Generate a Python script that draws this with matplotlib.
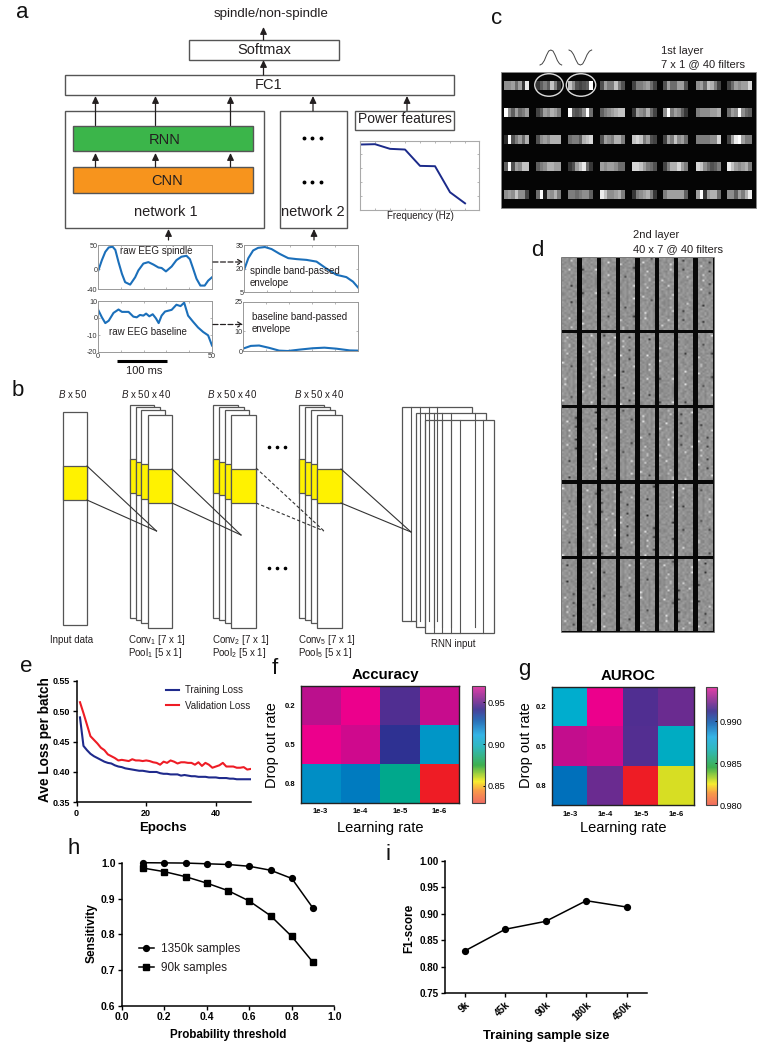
"""
plot.py
-------
Multi-panel figure: spindle network diagram (a, b), learned filters (c, d),
training curves (e), hyper-parameter heatmaps (f, g), sensitivity (h), F1 (i).
"""

import matplotlib
matplotlib.use("Agg")
import matplotlib.pyplot as plt
import numpy as np
from matplotlib.cm import ScalarMappable
from matplotlib.colors import LinearSegmentedColormap, Normalize, PowerNorm
from matplotlib.patches import Ellipse, Rectangle

plt.rcParams["font.family"] = ["Liberation Sans", "DejaVu Sans"]
plt.rcParams["mathtext.fontset"] = "custom"
plt.rcParams["mathtext.rm"] = "Liberation Sans"
plt.rcParams["mathtext.it"] = "Liberation Sans:italic"
plt.rcParams["mathtext.default"] = "regular"
plt.rcParams["axes.unicode_minus"] = False

# ---------------------------------------------------------------------------
# Data
# ---------------------------------------------------------------------------
RAW_SPINDLE_X = [0, 1.7, 3.2, 4.7, 6.4, 7.6, 9, 10.5, 11.9, 14.1, 16.3, 17.7, 19.9, 22.1, 24.3,
                 26.5, 27.9, 29.8, 32.3, 34.4, 36.6, 38.8, 40.3, 41.7, 43.2, 44.9, 46.8, 48.3, 50]
RAW_SPINDLE_Y = [-4, 19, 36, 45, 46.5, 40, 15, -9, -26, -31, -16, -2, 12, 15, 10,
                 4, 3, -4, 6, 19, 26, 28, 21, 2, -19, -33, -33, -23, -16]
RAW_BASE_X = [0, 1.7, 3.2, 4.7, 6.8, 9, 10.5, 13.4, 15.5, 17, 18.4, 19.9, 21.1, 22.5, 24,
              25.4, 26.6, 27.9, 29.4, 32.3, 34.4, 36.2, 37.8, 39.5, 41.7, 43.9, 46.1, 48.3, 50]
RAW_BASE_Y = [5, 0.4, -3, -1.6, 3, 5, 3.6, 3.6, 0.8, 0.4, 1.8, 1.4, 2.6, 1, 2.2,
              -0.2, -3, 1.4, 3.8, 4.8, 7.8, 7, 9, 1.4, -2.2, -5.6, -8.2, -10.2, -16.2]
ENV_SPINDLE_X = [0, 1.9, 4, 6.2, 9.2, 12.1, 15.7, 19.4, 23, 27.4, 31.8, 36.1, 40.5, 44.9, 47.8, 50]
ENV_SPINDLE_Y = [18.9, 26.6, 31.5, 33.2, 33.7, 32.4, 29.3, 26.6, 26, 25.5, 24.4, 20, 16, 14.5, 11.6, 7.9]
ENV_BASE_X = [0, 3.4, 7, 11.4, 15.7, 19.4, 24.5, 30.3, 35.4, 40.5, 46.4, 50]
ENV_BASE_Y = [1.2, 2.6, 2.8, 1.6, 0.2, 0, 0.7, 1.4, 1.7, 1.2, 0.3, 0.2]
POWER_BINS = [1, 2, 3, 4, 5, 6, 7, 8]
POWER_VALUES = [0.942, 0.947, 0.88, 0.87, 0.635, 0.63, 0.255, 0.096]

# 1st layer filters, one hex digit of grey per weight
FILTERS_C = [
    ["99a7a3e", "3686c83", "c95456f", "5a88c85", "4889a74", "5a77aa5", "9a7cb84", "47a9aad"],
    ["f96a78a", "46a9ba8", "f6569f7", "689abcc", "3a98b74", "9f8a963", "8999aab", "7a9f976"],
    ["2f58a7b", "59a9bbb", "7886bcd", "5a98bb8", "cdc8a54", "4a8c9a7", "888899d", "4aefa88"],
    ["6f5a9cc", "689bbaa", "35ace73", "a9aa977", "ddca875", "48bbda8", "dc97568", "eca9ab8"],
    ["9a9c994", "7f1a9b8", "8878996", "ec99ab8", "389ab83", "8aaaaa6", "af3abb7", "996a8be"],
]
TEXTURE_D = [
    "98a79b89a8798a9c87a9879",
    "8a97e8a79b8979a88b9a7a8",
    "a7989a8b79a89c98a798b98",
    "79a88b92a8798a9a79b8a97",
    "9b8a79a8b97a98e7a98a79a",
    "87a9b879a89b8a7989ba878",
    "a98f7a98a79a8b97a8792b9",
    "7b98a9879ba8798ab9a879a",
    "9a87b9a2a89b7a98a79b8a8",
    "a79a8798ab97f98a89a7b98",
    "8b9a79b98a789ab87a98a9a",
    "98a8b7a9a8b9879a3a879b8",
    "7a98a89b7e98a9b8a9b87a9",
    "a89b79a89a79b8a798a8b97",
    "9a7b8a9887ba9a98b79a88a",
    "b8a91a78a9b89a7a98ba97a",
    "87a9b98a79a8b98a97a8f98",
    "a9879ab89a87a9b8a79b89a",
    "9a8ba79a8b9a7f98a89a7a8",
    "78a98b7a98a89b79a8b9a79",
]

LOSS_EPOCHS = list(range(1, 51))
TRAIN_LOSS = [.490, .443, .436, .430, .426, .423, .420, .417, .415, .414,
              .411, .409, .408, .406, .405, .404, .403, .402, .402, .401,
              .400, .400, .400, .398, .397, .397, .396, .396, .396, .394,
              .395, .394, .393, .393, .392, .392, .392, .391, .391, .391,
              .390, .390, .390, .389, .389, .388, .388, .388, .388, .388]
VAL_LOSS = [.515, .497, .478, .459, .453, .447, .440, .436, .429, .426,
            .423, .419, .420, .419, .418, .421, .419, .419, .418, .419,
            .418, .416, .415, .412, .417, .415, .419, .417, .414, .416,
            .416, .415, .415, .412, .416, .410, .415, .412, .407, .409,
            .411, .415, .409, .409, .409, .407, .407, .408, .404, .405]

LEARNING_RATES = ["1e-3", "1e-4", "1e-5", "1e-6"]
DROPOUT_RATES = ["0.2", "0.5", "0.8"]
ACCURACY = [[.963, .970, .948, .965],
            [.970, .966, .942, .917],
            [.920, .927, .886, .830]]
AUROC = [[.98785, .99400, .99180, .99220],
         [.99340, .99360, .99185, .98740],
         [.99010, .99220, .98000, .98310]]

THRESHOLDS = [.1, .2, .3, .4, .5, .6, .7, .8, .9]
SENS_1350K = [1.0, .9995, .999, .997, .995, .99, .979, .956, .873]
SENS_90K = [.985, .975, .961, .943, .922, .893, .852, .794, .722]

SAMPLE_SIZES = ["9k", "45k", "90k", "180k", "450k"]
F1_SCORES = [.83, .871, .886, .925, .913]

# ---------------------------------------------------------------------------
# Style
# ---------------------------------------------------------------------------
W, H = 763, 1050
INK = "#231f20"
BOX = "#555555"
GREEN = "#3bb54a"
ORANGE = "#f7941d"
YELLOW = "#fff200"
BLUE_CURVE = "#1b6fba"

heat_cmap = LinearSegmentedColormap.from_list("heat", [
    (0.00, "#ee1c25"), (0.22, "#d7df23"), (0.40, "#00a88c"), (0.56, "#00aecf"),
    (0.72, "#0072bc"), (0.80, "#2e3192"), (0.87, "#662d91"), (1.00, "#ec008c"),
])
bar_cmap = LinearSegmentedColormap.from_list("bar", [
    (0.00, "#f06c60"), (0.10, "#f89a4a"), (0.18, "#f7ec30"), (0.32, "#3fb050"),
    (0.48, "#30b8c0"), (0.58, "#35b4e6"), (0.70, "#2a70b8"), (0.80, "#4a3f98"),
    (0.88, "#8a3e9a"), (1.00, "#e23fa8"),
])

fig = plt.figure(figsize=(W / 100, H / 100), dpi=100, facecolor="white")


def px_axes(x0, y0, x1, y1, **kwargs):
    """Axes placed by pixel box, y measured from the top of the figure."""
    return fig.add_axes([x0 / W, 1 - y1 / H, (x1 - x0) / W, (y1 - y0) / H], **kwargs)


bg = px_axes(0, 0, W, H)
bg.set_xlim(0, W)
bg.set_ylim(H, 0)
bg.axis("off")

# transparent sheet above the inset axes, for every loose text
top = px_axes(0, 0, W, H, zorder=50)
top.set_xlim(0, W)
top.set_ylim(H, 0)
top.axis("off")


def box(x0, y0, x1, y1, face="white", edge=BOX, lw=1.0, z=2):
    bg.add_patch(Rectangle((x0, y0), x1 - x0, y1 - y0, fc=face, ec=edge, lw=lw, zorder=z))


def label(x, y, s, size=8, ha="center", va="center", color=INK, **kwargs):
    top.text(x, y, s, fontsize=size, ha=ha, va=va, color=color, **kwargs)


def up_arrow(x, y_from, y_to):
    bg.annotate("", xy=(x, y_to), xytext=(x, y_from), zorder=6,
                arrowprops=dict(arrowstyle="-|>,head_width=0.2,head_length=0.42", color=INK,
                                lw=0.9, shrinkA=0, shrinkB=0))


# ---------------------------------------------------------------------------
# Panel letters
# ---------------------------------------------------------------------------
for letter, x, y in [("a", 22, 12), ("b", 18, 391), ("c", 497, 18), ("d", 537, 251), ("e", 26, 667),
                     ("f", 275, 669), ("g", 524, 669), ("h", 74, 848), ("i", 388, 855)]:
    label(x, y, letter, size=16, color="#111111")

# ---------------------------------------------------------------------------
# a: network diagram
# ---------------------------------------------------------------------------
label(271, 14, "spindle/non-spindle", size=9.6)
box(188.5, 40, 338.5, 60)
label(264, 49.5, "Softmax", size=10.5)
box(65, 75, 454, 94.5)
label(269, 85, "FC1", size=10.5)
box(65, 110.5, 263.5, 228)
box(73, 125.5, 252.5, 151, face=GREEN)
box(73, 167, 252.5, 192.5, face=ORANGE)
label(165, 140, "RNN", size=10.5)
label(167, 181, "CNN", size=10.5)
label(165.5, 212, "network 1", size=10.5)
box(279.5, 111, 347, 228)
label(312.5, 212, "network 2", size=10.5)
box(355, 110.5, 454, 130)
label(405, 119, "Power features", size=10)

up_arrow(263.5, 40, 27)
up_arrow(263.5, 75, 60)
for x in (95.5, 155.5, 230.5):
    up_arrow(x, 125.5, 96)
    up_arrow(x, 167, 153)
up_arrow(313, 111, 96)
up_arrow(407, 110.5, 96)
up_arrow(168.5, 240, 229)
up_arrow(314, 240, 229)

for y in (138, 181.5):
    for x in (303.5, 312, 320.5):
        bg.plot(x, y, "o", ms=1.8, color="black", zorder=6)


def inset(x0, y0, x1, y1, xs, ys, ylim, yticks, xlabels=False, color=BLUE_CURVE):
    ax = px_axes(x0, y0, x1, y1)
    ax.plot(xs, ys, color=color, lw=1.5, solid_joinstyle="round")
    ax.set_xlim(0, 50)
    ax.set_ylim(*ylim)
    ax.set_xticks(range(0, 51, 10))
    ax.set_xticklabels(["0", "", "", "", "", "50"] if xlabels else [""] * 6)
    ax.set_yticks(yticks)
    ax.tick_params(direction="in", length=1.5, width=0.5, color="#999999", labelsize=5.2,
                   labelcolor="#333333", pad=0.5, top=True, right=True)
    for side in ax.spines.values():
        side.set_color("#999999")
        side.set_linewidth(0.7)
    return ax


inset(98, 245, 212, 289, RAW_SPINDLE_X, RAW_SPINDLE_Y, (-40, 50), [-40, 0, 50])
inset(244, 245, 358, 292, ENV_SPINDLE_X, ENV_SPINDLE_Y, (5, 35), [5, 20, 35])
inset(98, 301, 212, 352, RAW_BASE_X, RAW_BASE_Y, (-20, 10), [-20, -10, 0, 10], xlabels=True)
inset(243, 302, 358, 351, ENV_BASE_X, ENV_BASE_Y, (0, 25), [0, 10, 25])

power_ax = px_axes(360, 140.5, 479, 210)
power_ax.plot(POWER_BINS, POWER_VALUES, color="#1b2a8a", lw=1.4)
power_ax.set_xlim(1, 8.93)
power_ax.set_ylim(0, 1)
power_ax.set_xticks(POWER_BINS)
power_ax.set_xticklabels([])
power_ax.set_yticks([0.2, 0.4, 0.6, 0.8])
power_ax.set_yticklabels([])
power_ax.tick_params(direction="in", length=1.5, width=0.5, color="#999999", top=True, right=True)
for side in power_ax.spines.values():
    side.set_color("#aaaaaa")
    side.set_linewidth(0.8)

label(420, 216, "Frequency (Hz)", size=7)
label(156, 250.5, "raw EEG spindle", size=7)
label(148, 332, "raw EEG baseline", size=7)
label(250, 271.5, "spindle band-passed", size=7, ha="left")
label(250, 283, "envelope", size=7, ha="left")
label(251.5, 317, "baseline band-passed", size=7, ha="left")
label(251.5, 329, "envelope", size=7, ha="left")

for y in (262, 324.5):
    top.annotate("", xy=(243, y), xytext=(213, y),
                 arrowprops=dict(arrowstyle="->,head_width=0.18,head_length=0.3", color=INK,
                                 lw=0.9, ls=(0, (4, 2)), shrinkA=0, shrinkB=0))
bg.plot([117, 167], [361, 361], color="black", lw=2.2, solid_capstyle="butt")
label(144, 371, "100 ms", size=8)

# ---------------------------------------------------------------------------
# b: convolution stacks
# ---------------------------------------------------------------------------
label(72.5, 394, r"$\mathit{B}$ x 50", size=7)
box(63, 412, 87, 625, lw=0.9)
box(63, 466, 87, 500, face=YELLOW, lw=0.9, z=3)
label(72, 640, "Input data", size=7)

for off, idx, head in [(0, "1", 146), (83.7, "2", 232), (169.7, "5", 319)]:
    label(head, 394, r"$\mathit{B}$ x 50 x 40", size=7)
    for i, (l, t, b, yt, yb) in enumerate([(129.5, 405, 618, 459, 493), (135.7, 407, 620, 462, 495),
                                           (141, 410, 623, 464, 499), (147.5, 415, 628, 469, 503)]):
        r = l + 24.3
        box(l + off, t, r + off, b, lw=0.9, z=3 + i)
        box(l + off, yt, r + off, yb, face=YELLOW, lw=0.9, z=3 + i)
    label(128 + off, 640, "Conv$_{%s}$ [7 x 1]" % idx, size=7, ha="left")
    label(128 + off, 653, "Pool$_{%s}$ [5 x 1]" % idx, size=7, ha="left")

for l, t, b, r, lines in [(401.7, 407, 620.7, 472, (411, 420, 428.5, 437)),
                          (416, 413, 627, 486, (425, 433.5, 442, 450.5, 475)),
                          (424.7, 420, 633, 494, (433.5, 442, 450.5, 459.5, 483))]:
    box(l, t, r, b, lw=0.9, z=5)
    for x in lines:
        bg.plot([x, x], [t, b], color=BOX, lw=0.8, zorder=5.5)
label(453, 644, "RNN input", size=7)

for (x, y0, y1, tx, ty, style) in [(87, 466, 500, 156.5, 531, "-"), (172, 469, 503, 241, 535, "-"),
                                   (256, 468, 503, 324, 531, (0, (3, 2))), (341, 469, 503, 411, 532, "-")]:
    for y in (y0, y1):
        bg.plot([x, tx], [y, ty], color="#333333", lw=0.8, ls=style, zorder=12)

for y in (447, 568):
    for x in (269, 277, 285):
        bg.plot(x, y, "o", ms=1.6, color="black", zorder=6)

# ---------------------------------------------------------------------------
# c: 1st layer filters
# ---------------------------------------------------------------------------
box(501, 71.7, 755.7, 208.3, face="#050505", edge="#888888", lw=0.6)
C_COLS = [504.3, 535.7, 568.3, 600, 631.7, 663.3, 695.7, 726.7]
C_ROWS = [80.7, 108, 135, 162.2, 189.8]
grey_norm = PowerNorm(gamma=1.6, vmin=-0.3, vmax=1)
for row, y in zip(FILTERS_C, C_ROWS):
    for weights, x in zip(row, C_COLS):
        grey = np.array([[int(ch, 16) / 15 for ch in weights]])
        bg.imshow(grey, cmap="gray", norm=grey_norm, aspect="auto", zorder=4,
                  extent=(x, x + 25, y + 9, y), interpolation="nearest")
bg.add_patch(Ellipse((549, 85), 28.5, 22.5, fc="none", ec="#dddddd", lw=1.0, zorder=5))
bg.add_patch(Ellipse((581, 85), 29.5, 22.5, fc="none", ec="#dddddd", lw=1.0, zorder=5))

BUMP_U = [0, .1, .2, .3, .4, .5, .6, .7, .8, .9, 1]
BUMP_V = [0, .08, .3, .65, .93, 1, .93, .65, .3, .08, 0]
bg.plot([540 + 21.7 * u for u in BUMP_U], [65 - 15 * v for v in BUMP_V], color="#444444", lw=0.7)
bg.plot([569 + 22.7 * u for u in BUMP_U], [50 + 15 * v for v in BUMP_V], color="#444444", lw=0.7)
label(660.7, 51, "1st layer", size=8, ha="left")
label(660.7, 64.5, "7 x 1 @ 40 filters", size=8, ha="left")

# ---------------------------------------------------------------------------
# d: 2nd layer filters
# ---------------------------------------------------------------------------
box(561, 257, 714, 632, face="#080808", edge="#777777", lw=0.5)
D_COLS = [561.7, 581.7, 600.7, 620.3, 639.7, 659.3, 678.3, 698]
D_ROWS = [259, 334, 409, 485, 560]
tile = np.array([[int(ch, 16) / 15 for ch in line] for line in TEXTURE_D])
tile = np.vstack([tile, tile[::-1]])
# mid greys sit close together in the reference, specks stand out only a little
tile = 0.56 + (tile - 0.57) * np.where(np.abs(tile - 0.57) < 0.2, 0.45, 0.8)
for r, y in enumerate(D_ROWS):
    for c, x in enumerate(D_COLS):
        patch = np.roll(np.roll(tile, 3 * c + 11 * r, axis=1), 7 * r + 13 * c, axis=0)[:, :7]
        bg.imshow(patch, cmap="gray", vmin=0, vmax=1, aspect="auto", zorder=4,
                  extent=(x, x + 15, y + 71.5, y), interpolation="bilinear")
label(633, 235, "2nd layer", size=8, ha="left")
label(633, 249, "40 x 7 @ 40 filters", size=8, ha="left")

bg.set_xlim(0, W)
bg.set_ylim(H, 0)

# ---------------------------------------------------------------------------
# e: loss curves
# ---------------------------------------------------------------------------
ax_e = px_axes(76.5, 681, 250.7, 802.3)
ax_e.plot(LOSS_EPOCHS, TRAIN_LOSS, color="#1f2a8c", lw=1.5, label="Training Loss")
ax_e.plot(LOSS_EPOCHS, VAL_LOSS, color="#ee1c25", lw=1.5, label="Validation Loss")
ax_e.set_xlim(0, 50)
ax_e.set_ylim(0.35, 0.55)
ax_e.set_xticks([0, 20, 40])
ax_e.set_yticks([0.35, 0.40, 0.45, 0.50, 0.55])
ax_e.set_yticklabels(["0.35", "0.40", "0.45", "0.50", "0.55"])
ax_e.legend(loc="upper left", bbox_to_anchor=(0.512, 0.965), frameon=False, fontsize=7, handlelength=1.35,
            handletextpad=0.65, labelspacing=0.55, borderpad=0, borderaxespad=0, labelcolor=INK)


def prism_style(ax, size=6.5):
    ax.spines["top"].set_visible(False)
    ax.spines["right"].set_visible(False)
    ax.spines["left"].set_linewidth(1.1)
    ax.spines["bottom"].set_linewidth(1.1)
    ax.tick_params(length=3, width=1.0, labelsize=size, pad=1.5)
    for t in ax.get_xticklabels() + ax.get_yticklabels():
        t.set_fontweight("bold")


prism_style(ax_e)
label(45, 740, "Ave Loss per batch", size=9.8, rotation=90, fontweight="bold", color="black")
label(163, 828, "Epochs", size=9.5, fontweight="bold", color="black")


# ---------------------------------------------------------------------------
# f, g: heatmaps
# ---------------------------------------------------------------------------
def heatmap(box_px, bar_px, values, title, vmin, vmax, ticks, fmt, ylab_x):
    ax = px_axes(*box_px)
    ax.imshow(values, cmap=heat_cmap, vmin=vmin, vmax=vmax, aspect="auto", interpolation="nearest")
    ax.set_xticks(range(len(LEARNING_RATES)))
    ax.set_xticklabels(LEARNING_RATES, fontsize=5.5, fontweight="bold")
    ax.set_yticks(range(len(DROPOUT_RATES)))
    ax.set_yticklabels(DROPOUT_RATES, fontsize=5.5, fontweight="bold")
    ax.tick_params(length=0, pad=4)
    for side in ax.spines.values():
        side.set_linewidth(1.0)
        side.set_color("#222222")
    cx = (box_px[0] + box_px[2]) / 2
    label(cx + 5, box_px[1] - 11, title, size=10.8, fontweight="bold", color="black")
    label(cx, 828, "Learning rate", size=10.5, color="black")
    label(ylab_x, 745, "Drop out rate", size=10.5, rotation=90, color="black")

    cax = px_axes(*bar_px)
    bar = fig.colorbar(ScalarMappable(Normalize(vmin, vmax), bar_cmap), cax=cax)
    bar.set_ticks(ticks)
    bar.set_ticklabels([fmt % t for t in ticks])
    bar.ax.tick_params(length=1.5, width=0.7, labelsize=6.6, pad=2, direction="in")
    bar.outline.set_linewidth(0.8)
    bar.outline.set_edgecolor("#444444")


heatmap((300.7, 685.7, 459.3, 802.7), (472.3, 685.7, 485.3, 802.7), ACCURACY, "Accuracy",
        0.83, 0.97, [0.85, 0.90, 0.95], "%.2f", 272)
heatmap((552.3, 687.3, 694, 805.3), (705.7, 687.3, 717.3, 805.3), AUROC, "AUROC",
        0.98, 0.994, [0.98, 0.985, 0.99], "%.3f", 526)

# ---------------------------------------------------------------------------
# h: sensitivity against threshold
# ---------------------------------------------------------------------------
ax_h = px_axes(121.8, 862.7, 334.3, 1006)
ax_h.plot(THRESHOLDS, SENS_1350K, "-o", color="black", lw=1.1, ms=4.2, clip_on=False, label="1350k samples")
ax_h.plot(THRESHOLDS, SENS_90K, "-s", color="black", lw=1.1, ms=4.2, clip_on=False, label="90k samples")
ax_h.set_xlim(0, 1)
ax_h.set_ylim(0.6, 1.0)
ax_h.set_xticks([0, .2, .4, .6, .8, 1.0])
ax_h.set_xticklabels(["0.0", "0.2", "0.4", "0.6", "0.8", "1.0"])
ax_h.set_yticks([.6, .7, .8, .9, 1.0])
ax_h.set_yticklabels(["0.6", "0.7", "0.8", "0.9", "1.0"])
ax_h.legend(loc="lower left", bbox_to_anchor=(0.08, 0.225), frameon=False, fontsize=8.5, handlelength=1.3,
            handletextpad=0.6, labelspacing=0.55, borderpad=0, borderaxespad=0, labelcolor=INK)
prism_style(ax_h, size=7.5)
label(92, 933, "Sensitivity", size=8.6, rotation=90, fontweight="bold", color="black")
label(228.5, 1035, "Probability threshold", size=8.4, fontweight="bold", color="black")

# ---------------------------------------------------------------------------
# i: F1 against training size
# ---------------------------------------------------------------------------
ax_i = px_axes(445, 861, 647, 993.3)
ax_i.plot(SAMPLE_SIZES, F1_SCORES, "-o", color="black", lw=1.1, ms=4.2)
ax_i.set_xlim(-0.487, 4.5)
ax_i.set_ylim(0.75, 1.0)
ax_i.set_yticks([.75, .80, .85, .90, .95, 1.0])
ax_i.set_yticklabels(["0.75", "0.80", "0.85", "0.90", "0.95", "1.00"])
prism_style(ax_i, size=7.1)
for t in ax_i.get_xticklabels():
    t.set_rotation(45)
    t.set_ha("right")
    t.set_rotation_mode("anchor")
label(409, 928, "F1-score", size=8.5, rotation=90, fontweight="bold", color="black")
label(546, 1036.5, "Training sample size", size=9.4, fontweight="bold", color="black")

fig.savefig("out.png", dpi=100)
